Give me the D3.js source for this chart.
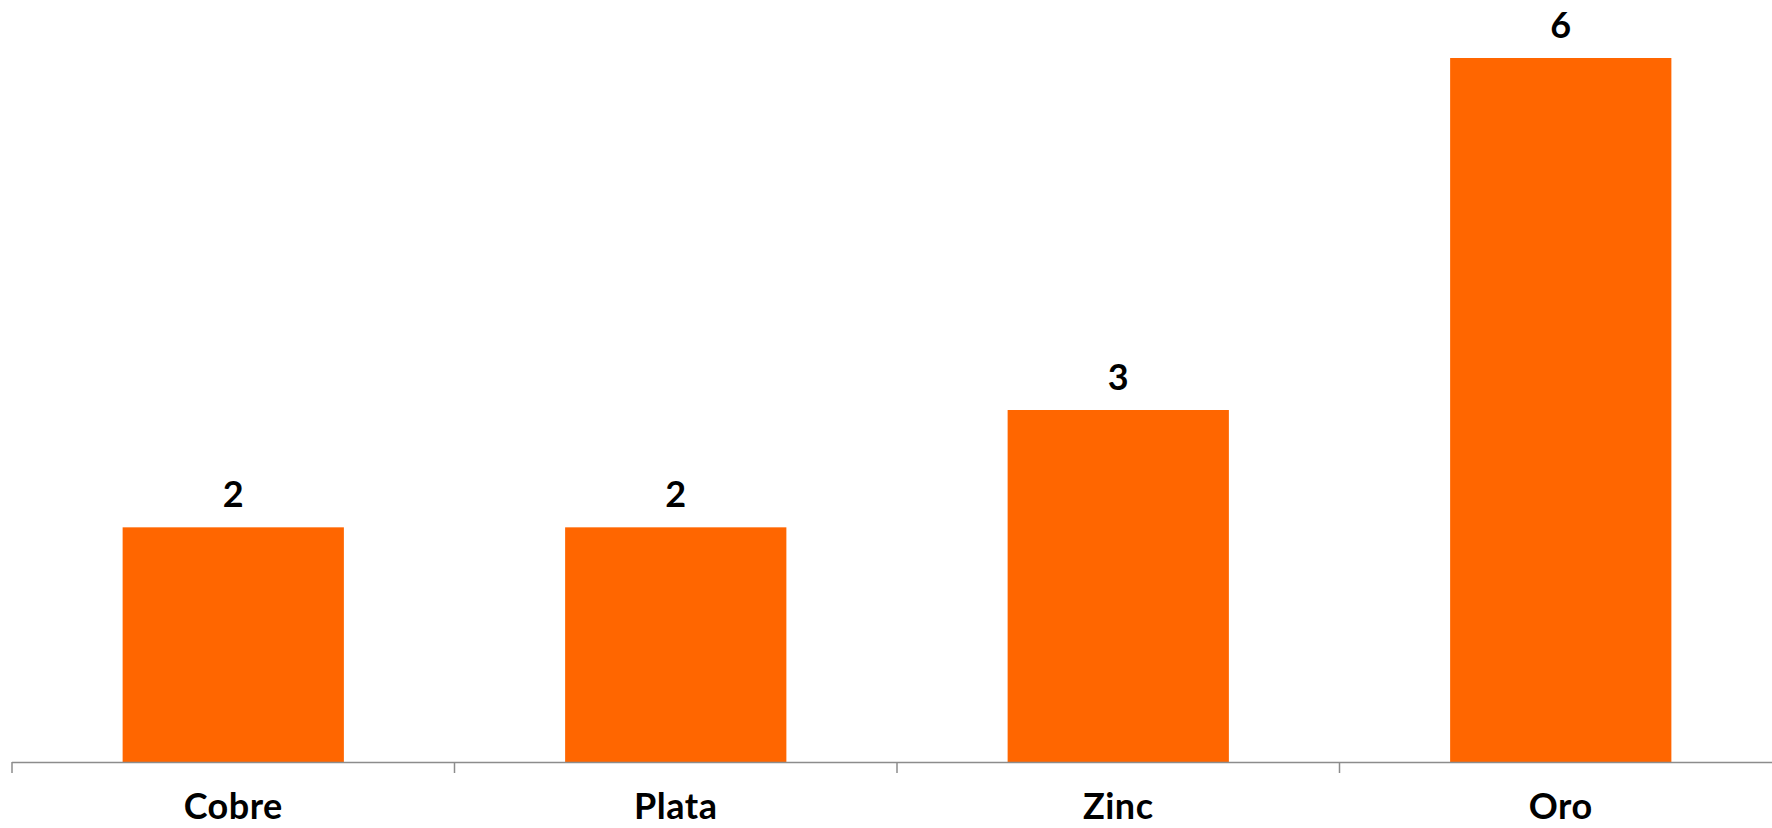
<!DOCTYPE html>
<html><head><meta charset="utf-8">
<script src="https://cdn.jsdelivr.net/npm/d3@7"></script>
<style>
html,body{margin:0;padding:0;background:#fff;}
svg{display:block;}
text{font-family:"Lato","Noto Sans",sans-serif;font-weight:bold;fill:#000;}
</style></head>
<body>
<svg id="chart" width="1772" height="828"></svg>
<script>
const categories = ["Cobre", "Plata", "Zinc", "Oro"];
const values = [2, 2, 3, 6];

const svg = d3.select("#chart");
const axisY = 762;
const x = d3.scaleBand().domain(categories).range([12, 1782]).paddingInner(0.5).paddingOuter(0.25);
const y = d3.scaleLinear().domain([0, 6]).range([axisY, 58]);

svg.selectAll("rect.bar").data(values).join("rect")
  .attr("class", "bar")
  .attr("x", (d, i) => x(categories[i]))
  .attr("width", x.bandwidth())
  .attr("y", d => y(d))
  .attr("height", d => axisY - y(d))
  .attr("fill", "#FF6600");

svg.selectAll("text.val").data(values).join("text")
  .attr("class", "val")
  .attr("x", (d, i) => x(categories[i]) + x.bandwidth() / 2)
  .attr("y", d => y(d) - 20)
  .attr("text-anchor", "middle")
  .style("font-size", "36px")
  .text(d => d);

// axis line
const band = (1782 - 12) / categories.length;
const ax = svg.append("g");
ax.append("line").attr("x1", 12).attr("x2", 1782).attr("y1", axisY + 0.5).attr("y2", axisY + 0.5)
  .attr("stroke", "#8c8c8c").attr("stroke-width", 1.5);
const tickPos = d3.range(categories.length + 1).map(i => 12 + i * band);
ax.selectAll("line.tick").data(tickPos).join("line")
  .attr("class", "tick")
  .attr("x1", d => d).attr("x2", d => d)
  .attr("y1", axisY).attr("y2", axisY + 11)
  .attr("stroke", "#8c8c8c").attr("stroke-width", 1.5);

svg.selectAll("text.cat").data(categories).join("text")
  .attr("class", "cat")
  .attr("x", d => x(d) + x.bandwidth() / 2)
  .attr("y", 819)
  .attr("text-anchor", "middle")
  .style("font-size", "36px")
  .style("letter-spacing", "0.5px")
  .text(d => d);
</script>
</body></html>
